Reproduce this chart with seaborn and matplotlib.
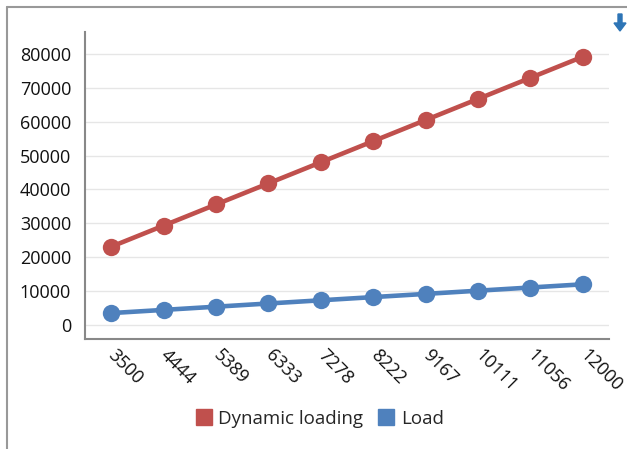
import matplotlib
matplotlib.use("Agg")
import matplotlib.pyplot as plt
import seaborn as sns
import pandas as pd
from matplotlib.patches import FancyArrow
from matplotlib.lines import Line2D

categories = ["3500", "4444", "5389", "6333", "7278", "8222", "9167", "10111", "11056", "12000"]
dynamic_loading = [23100, 29330, 35570, 41800, 48030, 54270, 60500, 66730, 72970, 79200]
load = [3500, 4444, 5389, 6333, 7278, 8222, 9167, 10111, 11056, 12000]
series_names = ["Dynamic loading", "Load"]
colors = ["#C0504D", "#4F81BD"]

df = pd.DataFrame({
    "x": list(range(len(categories))) * 2,
    "value": dynamic_loading + load,
    "series": [series_names[0]] * len(categories) + [series_names[1]] * len(categories),
})

sns.set_style("white")
plt.rcParams["font.family"] = ["Open Sans", "DejaVu Sans"]

W, H = 627, 449
fig = plt.figure(figsize=(W / 100, H / 100), dpi=100)
ax = fig.add_axes([85 / W, 1 - 339 / H, (609 - 85) / W, (339 - 32) / H])

sns.lineplot(data=df, x="x", y="value", hue="series", palette=colors,
             marker="o", markersize=12.5, markeredgewidth=0, linewidth=3.3,
             ax=ax, legend=False, zorder=3)

ymin = -4150
ax.set_xlim(-0.5, len(categories) - 0.5)
ax.set_ylim(ymin, 86500)
ax.set_xlabel("")
ax.set_ylabel("")

ax.set_yticks(range(0, 80001, 10000))
ax.set_yticklabels([str(v) for v in range(0, 80001, 10000)], fontsize=13, color="#111111")
ax.set_yticks([ymin], minor=True)
ax.yaxis.grid(True, which="major", color="#E6E6E6", linewidth=1)
ax.set_axisbelow(True)

ax.set_xticks(range(len(categories)))
ax.set_xticklabels(categories, fontsize=13, color="#111111", rotation=-45,
                   ha="left", va="center", rotation_mode="anchor")
ax.tick_params(axis="x", which="major", length=0, pad=10)
ax.set_xticks([i - 0.5 for i in range(len(categories) + 1)], minor=True)
ax.tick_params(axis="x", which="minor", length=8, width=1.3, color="#666666", direction="out")
ax.tick_params(axis="y", which="both", length=8, width=1.3, color="#555555", direction="out", pad=2)

for s in ["top", "right"]:
    ax.spines[s].set_visible(False)
for s in ["left", "bottom"]:
    ax.spines[s].set_color("#888888")
    ax.spines[s].set_linewidth(1.5)

# legend
handles = [Line2D([0], [0], marker="s", linestyle="", markersize=12, color=c) for c in colors]
fig.legend(handles, series_names, loc="center", bbox_to_anchor=(319 / W, 1 - 419 / H),
           ncol=2, frameon=False, fontsize=13.5, handletextpad=0.3, columnspacing=0.7,
           handlelength=1.0)

# container border (left and top)
fig.add_artist(Line2D([7 / W, 7 / W], [0, 1 - 7 / H], color="#999999", linewidth=1.5))
fig.add_artist(Line2D([7 / W, 1], [1 - 7 / H, 1 - 7 / H], color="#999999", linewidth=1.5))

# download arrow
fig.add_artist(FancyArrow(620 / W, 1 - 14 / H, 0, -17 / H, width=4 / W,
                          head_width=12 / W, head_length=8 / H,
                          length_includes_head=True, color="#2E75B6",
                          transform=fig.transFigure))

fig.savefig("out.png", dpi=100)
